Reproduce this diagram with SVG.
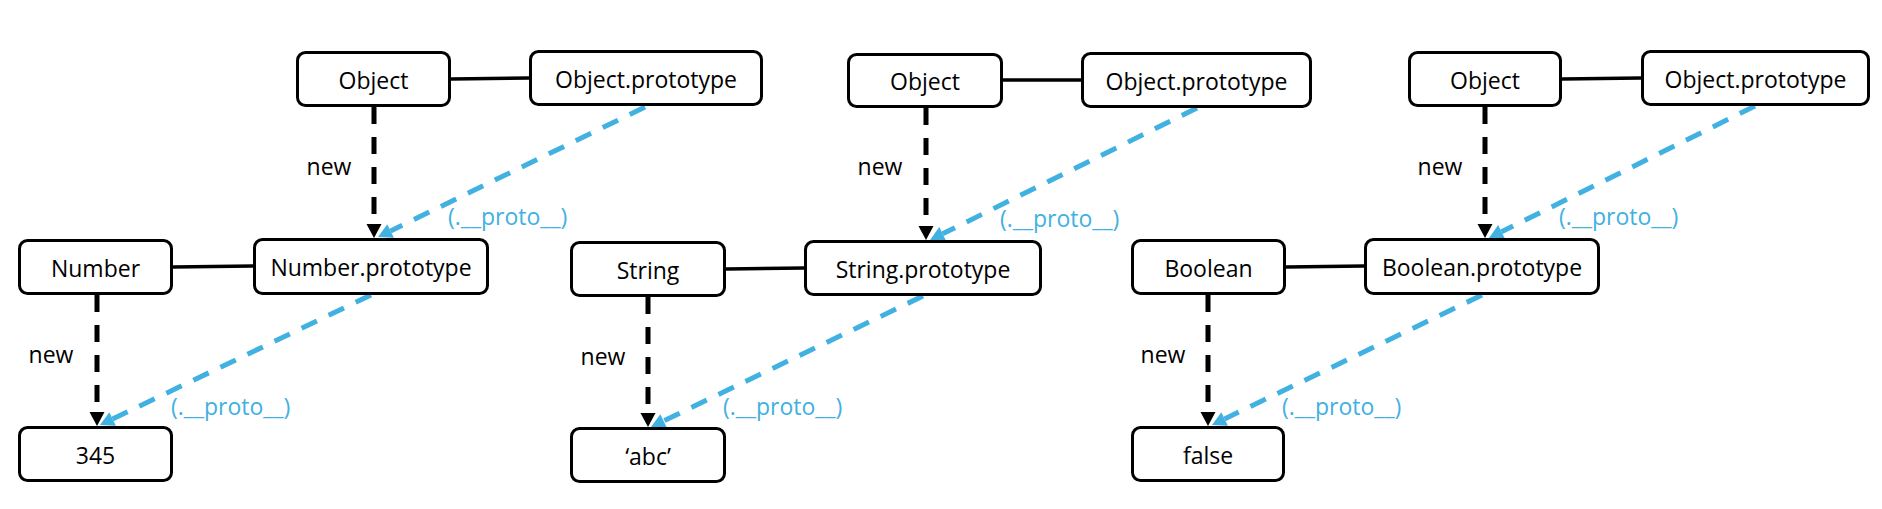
<svg xmlns="http://www.w3.org/2000/svg" width="1882" height="509" viewBox="0 0 1882 509">
<style>
.box{fill:#fff;stroke:#000;stroke-width:3}
.t{font-family:"Open Sans","Noto Sans",sans-serif;font-size:23px;fill:#000;text-anchor:middle}
.lbl{font-family:"Open Sans","Noto Sans",sans-serif;font-size:23px;fill:#000;text-anchor:middle}
.plbl{font-family:"Open Sans","Noto Sans",sans-serif;font-size:23px;fill:#41b1e1}
.solid{stroke:#000;stroke-width:3.5;fill:none}
.new{stroke:#000;stroke-width:5;fill:none;stroke-dasharray:17 13;marker-end:url(#ab)}
.proto{stroke:#41b1e1;stroke-width:5;fill:none;stroke-dasharray:17 13;marker-end:url(#ablue)}
</style>
<defs>
<marker id="ab" markerUnits="userSpaceOnUse" markerWidth="16" markerHeight="16" refX="0" refY="7.5" orient="auto" overflow="visible">
<path d="M0,0 L14,7.5 L0,15 z" fill="#000"/>
</marker>
<marker id="ablue" markerUnits="userSpaceOnUse" markerWidth="16" markerHeight="16" refX="0" refY="7.5" orient="auto" overflow="visible">
<path d="M0,0 L14,7.5 L0,15 z" fill="#41b1e1"/>
</marker>
</defs>
<g id="connectors">
<path class="solid" d="M451,79 L529,78"/>
<path class="solid" d="M173,267 L253,266"/>
<path class="solid" d="M1003,80 L1081,80"/>
<path class="solid" d="M726,269 L804,268"/>
<path class="solid" d="M1562,79 L1641,78"/>
<path class="solid" d="M1286,267 L1364,266"/>
<path class="new" d="M374,107 L374,224"/>
<path class="new" d="M97,295 L97,412"/>
<path class="new" d="M926,108 L926,226"/>
<path class="new" d="M648,297 L648,413"/>
<path class="new" d="M1485,107 L1485,224"/>
<path class="new" d="M1208,295 L1208,412"/>
<path class="proto" d="M645,107 L390.6,230.9"/>
<path class="proto" d="M371,295 L112.6,419"/>
<path class="proto" d="M1197,108 L942.6,233.8"/>
<path class="proto" d="M923,296 L663.6,420.9"/>
<path class="proto" d="M1755,106 L1501.5,231.8"/>
<path class="proto" d="M1482,295 L1224.6,418.9"/>
<text class="lbl" x="329" y="175">new</text>
<text class="lbl" x="51" y="363">new</text>
<text class="lbl" x="880" y="175">new</text>
<text class="lbl" x="603" y="365">new</text>
<text class="lbl" x="1440" y="175">new</text>
<text class="lbl" x="1163" y="363">new</text>
<text class="plbl" x="448" y="225">(.__proto__)</text>
<text class="plbl" x="171" y="415">(.__proto__)</text>
<text class="plbl" x="1000" y="227">(.__proto__)</text>
<text class="plbl" x="723" y="415">(.__proto__)</text>
<text class="plbl" x="1559" y="225">(.__proto__)</text>
<text class="plbl" x="1282" y="415">(.__proto__)</text>
</g>
<g id="object1"><rect class="box" x="297.5" y="52.5" width="152" height="53" rx="8"/><text class="t" x="373.5" y="88.5">Object</text></g>
<g id="objectproto1"><rect class="box" x="530.5" y="51.5" width="231" height="53" rx="8"/><text class="t" x="646" y="87.5">Object.prototype</text></g>
<g id="number"><rect class="box" x="19.5" y="240.5" width="152" height="53" rx="8"/><text class="t" x="95.5" y="276.5">Number</text></g>
<g id="numberproto"><rect class="box" x="254.5" y="239.5" width="233" height="54" rx="8"/><text class="t" x="371" y="276">Number.prototype</text></g>
<g id="n345"><rect class="box" x="19.5" y="427.5" width="152" height="53" rx="8"/><text class="t" x="95.5" y="463.5">345</text></g>
<g id="object2"><rect class="box" x="848.5" y="54.5" width="153" height="52" rx="8"/><text class="t" x="925" y="90">Object</text></g>
<g id="objectproto2"><rect class="box" x="1082.5" y="53.5" width="228" height="53" rx="8"/><text class="t" x="1196.5" y="89.5">Object.prototype</text></g>
<g id="string"><rect class="box" x="571.5" y="242.5" width="153" height="53" rx="8"/><text class="t" x="648" y="278.5">String</text></g>
<g id="stringproto"><rect class="box" x="805.5" y="241.5" width="235" height="53" rx="8"/><text class="t" x="923" y="277.5">String.prototype</text></g>
<g id="abc"><rect class="box" x="571.5" y="428.5" width="153" height="53" rx="8"/><text class="t" x="648" y="464.5">‘abc’</text></g>
<g id="object3"><rect class="box" x="1409.5" y="52.5" width="151" height="53" rx="8"/><text class="t" x="1485" y="88.5">Object</text></g>
<g id="objectproto3"><rect class="box" x="1642.5" y="51.5" width="226" height="53" rx="8"/><text class="t" x="1755.5" y="87.5">Object.prototype</text></g>
<g id="boolean"><rect class="box" x="1132.5" y="240.5" width="152" height="53" rx="8"/><text class="t" x="1208.5" y="276.5">Boolean</text></g>
<g id="booleanproto"><rect class="box" x="1365.5" y="239.5" width="233" height="54" rx="8"/><text class="t" x="1482" y="276">Boolean.prototype</text></g>
<g id="false"><rect class="box" x="1132.5" y="427.5" width="151" height="53" rx="8"/><text class="t" x="1208" y="463.5">false</text></g>
</svg>
